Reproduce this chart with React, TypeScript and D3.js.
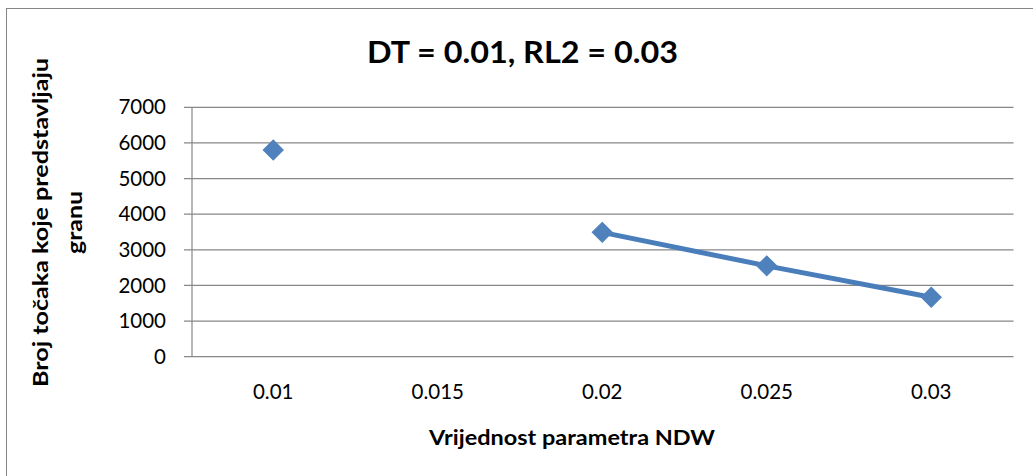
import React from 'react';
import * as d3 from 'd3';

const categories: string[] = ['0.01', '0.015', '0.02', '0.025', '0.03'];
const values: (number | null)[] = [5800, null, 3490, 2550, 1670];
const yTicks: number[] = [0, 1000, 2000, 3000, 4000, 5000, 6000, 7000];
const chartTitle = 'DT = 0.01, RL2 = 0.03';
const xAxisTitle = 'Vrijednost parametra NDW';
const yAxisTitleLines: string[] = ['Broj točaka koje predstavljaju', 'granu'];

const FONT = 'Lato, "Open Sans", sans-serif';
const GRID = '#878787';
const LINE = '#4A7EBB';
const MARK = '#4F81BD';

export default function App() {
  const W = 1033;
  const H = 476;
  const x = d3.scaleBand<string>().domain(categories).range([191, 1013.5]);
  const y = d3.scaleLinear().domain([0, 7000]).range([356.7, 107.3]);
  const cx = (c: string) => (x(c) as number) + x.bandwidth() / 2;
  const pts = categories.map((c, i) => ({ c, v: values[i] }));
  const lineGen = d3
    .line<{ c: string; v: number | null }>()
    .defined((d) => d.v != null)
    .x((d) => cx(d.c))
    .y((d) => y(d.v as number));
  const diamond = d3.symbol().type(d3.symbolSquare).size(200)() as string;
  const [x0, x1] = x.range();
  const yTitleLen = [329, 63];

  return (
    <svg
      width={W}
      height={H}
      style={{ position: 'absolute', left: 0, top: 0, background: '#fff' }}
      fontFamily={FONT}
    >
      <rect x={6.5} y={8.5} width={1040} height={480} fill="#fff" stroke="#868686" strokeWidth={1} />
      <text
        x={522.5}
        y={63.3}
        textAnchor="middle"
        fontSize={30}
        fontWeight="bold"
        fill="#000"
        textLength={311}
        lengthAdjust="spacingAndGlyphs"
      >
        {chartTitle}
      </text>
      {yTicks.map((t) => (
        <g key={t}>
          <line x1={184} x2={x1} y1={y(t)} y2={y(t)} stroke={GRID} strokeWidth={1.2} />
          <text x={166} y={y(t)} dy="0.35em" textAnchor="end" fontSize={20.5} fill="#000">
            {t}
          </text>
        </g>
      ))}
      <line x1={x0 + 1} x2={x0 + 1} y1={y(7000)} y2={y(0)} stroke={GRID} strokeWidth={1.2} />
      {categories.map((c) => (
        <text key={c} x={cx(c)} y={399} textAnchor="middle" fontSize={20.5} fill="#000">
          {c}
        </text>
      ))}
      <path d={lineGen(pts) as string} fill="none" stroke={LINE} strokeWidth={5} strokeLinejoin="round" />
      {pts
        .filter((p) => p.v != null)
        .map((p) => (
          <path
            key={p.c}
            d={diamond}
            transform={`translate(${cx(p.c)},${y(p.v as number)}) rotate(45)`}
            fill={MARK}
            stroke={MARK}
            strokeWidth={1}
          />
        ))}
      <text
        x={572}
        y={445}
        textAnchor="middle"
        fontSize={20.5}
        fontWeight="bold"
        fill="#000"
        textLength={286}
        lengthAdjust="spacingAndGlyphs"
      >
        {xAxisTitle}
      </text>
      {yAxisTitleLines.map((l, i) => (
        <text
          key={i}
          transform={`translate(${i === 0 ? 47.5 : 82},222.5) rotate(-90)`}
          textAnchor="middle"
          fontSize={21}
          fontWeight="bold"
          fill="#000"
          textLength={yTitleLen[i]}
          lengthAdjust="spacingAndGlyphs"
        >
          {l}
        </text>
      ))}
    </svg>
  );
}
